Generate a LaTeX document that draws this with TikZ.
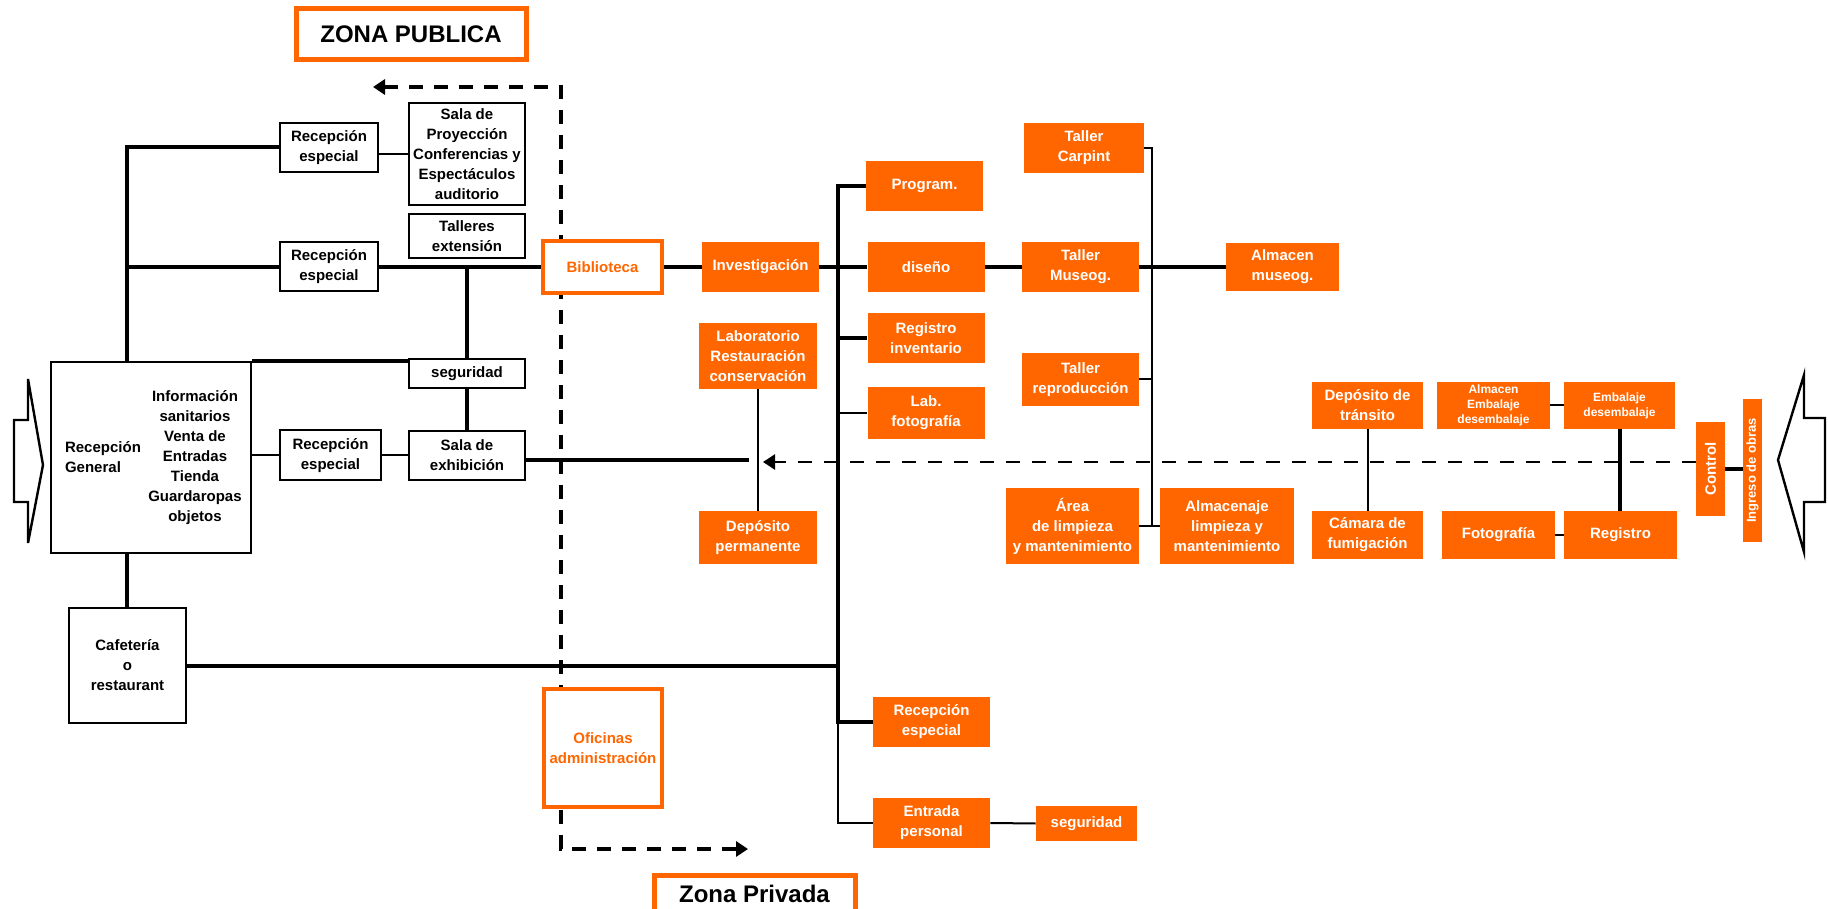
\documentclass[tikz,border=0pt]{standalone}
\usepackage{fontspec}
\setmainfont{Liberation Sans}
\usepackage{tikz}
\usetikzlibrary{arrows.meta,backgrounds}
\definecolor{naranja}{RGB}{255,102,0}
\newcommand{\cajafont}{\fontsize{7.5}{10}\selectfont\bfseries}
\newcommand{\cajafontsm}{\fontsize{6}{7.5}\selectfont\bfseries}

\begin{document}
\begin{tikzpicture}[
  x=0.5pt, y=-0.5pt,
  box/.style={draw, line width=1pt, fill=white, align=center, font=\cajafont, inner sep=0pt},
  obox/.style={box, draw=naranja, line width=2pt, text=naranja},
  ofill/.style={fill=naranja, text=white, align=center, font=\cajafont, inner sep=0pt},
  std/.style={minimum width=58.5pt, minimum height=25pt},
  zone/.style={draw=naranja, line width=2.5pt, fill=white, font=\fontsize{12}{14}\selectfont\bfseries, inner sep=0pt},
  heavy/.style={line width=2pt},
  light/.style={line width=1pt},
  zdash/.style={line width=2pt, dash pattern=on 7pt off 5.5pt},
  mdash/.style={line width=1.3pt, dash pattern=on 7pt off 6pt},
  arr/.style={-{Triangle[length=6pt,width=7.5pt]}}
]
\useasboundingbox (0,0) rectangle (1828,909);

\node[zone, minimum width=115pt, minimum height=25.5pt] (zpub) at (411,34.5) {ZONA PUBLICA};
\node[zone, minimum width=100.5pt, minimum height=18.5pt] (zpriv) at (754.5,893.5) {Zona Privada};

\coordinate (zl) at (373,87);
\coordinate (zt) at (561,87);
\coordinate (zb) at (561,849);
\coordinate (zr) at (748,849);
\begin{scope}[on background layer]
  \draw[zdash, {Triangle[length=6pt,width=7.5pt]}-{Triangle[length=6pt,width=7.5pt]}] (zl) -- (zt) -- (zb) -- (zr);
\end{scope}

% zona publica
\node[box, minimum width=49pt, minimum height=24.5pt] (re1) at (329,147.5) {Recepción\\especial};
\node[box, minimum width=58pt, minimum height=51pt] (proy) at (467,154) {Sala de\\Proyección\\Conferencias y\\Espectáculos\\auditorio};
\node[box, minimum width=58pt, minimum height=22pt] (taller) at (467,236) {Talleres\\extensión};
\node[box, minimum width=49pt, minimum height=24.5pt] (re2) at (329,267) {Recepción\\especial};
\node[box, minimum width=58pt, minimum height=14.5pt] (seg1) at (467,373.5) {seguridad};
\node[box, minimum width=58pt, minimum height=24.5pt] (exhib) at (467,455.5) {Sala de\\exhibición};
\node[box, minimum width=50.5pt, minimum height=25pt] (re3) at (330.5,455.5) {Recepción\\especial};
\node[box, minimum width=100.25pt, minimum height=95.5pt] (recep) at (150.75,457.5) {};
\node[font=\cajafont, align=left, anchor=west] (recepG) at (58,457.5) {Recepción\\General};
\node[font=\cajafont, align=center] (info) at (195,457.5) {Información\\sanitarios\\Venta de\\Entradas\\Tienda\\Guardaropas\\objetos};
\node[box, minimum width=58.5pt, minimum height=57.5pt] (cafe) at (127.5,665.5) {Cafetería\\o\\restaurant};

% zona privada
\node[obox, minimum width=59.5pt, minimum height=26pt] (biblio) at (602.5,267) {Biblioteca};
\node[obox, minimum width=59pt, minimum height=59pt] (ofic) at (603,748) {Oficinas\\administración};
\node[ofill, std] (invest) at (760.5,267) {Investigación};
\node[ofill, std] (progr) at (924.5,186) {Program.};
\node[ofill, std] (diseno) at (926,267) {diseño};
\node[ofill, std] (reginv) at (926,338) {Registro\\inventario};
\node[ofill, std, minimum height=26pt] (labfoto) at (926,413) {Lab.\\fotografía};
\node[ofill, minimum width=59pt, minimum height=33pt] (labrest) at (758,356) {Laboratorio\\Restauración\\conservación};
\node[ofill, minimum width=59pt, minimum height=26.5pt] (depperm) at (758,537.5) {Depósito\\permanente};
\node[ofill, minimum width=60pt, minimum height=25pt] (tcarp) at (1084,148) {Taller\\Carpint};
\node[ofill, std] (tmuseo) at (1080.5,267) {Taller\\Museog.};
\node[ofill, minimum width=56.5pt, minimum height=24pt] (almuseo) at (1282.5,267) {Almacen\\museog.};
\node[ofill, std, minimum height=26.5pt] (trepro) at (1080.5,379.5) {Taller\\reproducción};
\node[ofill, minimum width=66.5pt, minimum height=38pt] (area) at (1072.5,526) {Área\\de limpieza\\y mantenimiento};
\node[ofill, minimum width=67pt, minimum height=38pt] (almlimp) at (1227,526) {Almacenaje\\limpieza y\\mantenimiento};
\node[ofill, minimum width=55.5pt, minimum height=23.5pt] (deptran) at (1367.5,405.5) {Depósito de\\tránsito};
\node[ofill, minimum width=55.5pt, minimum height=24pt] (camara) at (1367.5,535) {Cámara de\\fumigación};
\node[ofill, font=\cajafontsm, minimum width=56.5pt, minimum height=23.5pt] (almemb) at (1493.5,405.5) {Almacen\\Embalaje\\desembalaje};
\node[ofill, font=\cajafontsm, minimum width=55.5pt, minimum height=23.5pt] (embdes) at (1619.5,405.5) {Embalaje\\desembalaje};
\node[ofill, minimum width=56.5pt, minimum height=24pt] (foto) at (1498.5,535) {Fotografía};
\node[ofill, minimum width=56.5pt, minimum height=24pt] (regis) at (1620.5,535) {Registro};
\node[ofill, rotate=90, minimum width=47pt, minimum height=14.5pt] (control) at (1710.5,469) {Control};
\node[ofill, font=\fontsize{6.5}{8}\selectfont\bfseries, rotate=90, minimum width=71.5pt, minimum height=9.5pt] (ingreso) at (1752.5,470.5) {Ingreso de obras};
\node[ofill, std] (reesp) at (931.5,722) {Recepción\\especial};
\node[ofill, std] (entrada) at (931.5,823) {Entrada\\personal};
\node[ofill, minimum width=50.5pt, minimum height=17.5pt] (seg2) at (1086.5,823.5) {seguridad};

% conexiones
\coordinate (lt) at (126.5,147.5);
\draw[heavy] (re1.west) -| (recep.north -| lt);
\draw[heavy] (lt |- re2.west) -- (re2.west);
\draw[light] (re1.east |- proy.west) -- (proy.west);
\draw[heavy] (re2.east) -- (biblio.west);
\draw[heavy] (seg1.north |- re2.east) -- (seg1.north);
\draw[heavy] (seg1.south) -- (exhib.north);
\draw[heavy] (recep.north east) -- (seg1.west |- recep.north east);
\draw[light] (recep.east |- re3.west) -- (re3.west);
\draw[light] (re3.east) -- (exhib.west);
\coordinate (exhend) at (749,460);
\draw[heavy] (exhib.east |- exhend) -- (exhend);
\draw[heavy] (recep.south -| lt) -- (cafe.north -| lt);

\coordinate (vb) at (838,824);
\draw[heavy] (cafe.east) -- (cafe.east -| vb);
\draw[heavy] (progr.west) -| (vb |- reesp.west) -- (reesp.west);
\draw[light] (vb |- reesp.west) |- (entrada.west);
\draw[light] (entrada.east) -- (seg2.west);
\draw[heavy] (vb |- reginv.west) -- (reginv.west);
\draw[light] (vb |- labfoto.west) -- (labfoto.west);
\draw[heavy] (biblio.east) -- (invest.west);
\draw[heavy] (invest.east) -- (diseno.west);
\draw[heavy] (diseno.east) -- (tmuseo.west);
\draw[heavy] (tmuseo.east) -- (almuseo.west);
\draw[light] (labrest.south) -- (depperm.north);

\coordinate (tb) at (1152,526);
\draw[light] (tcarp.east) -| (tb);
\draw[light] (trepro.east) -- (trepro.east -| tb);
\draw[light] (area.east) -- (almlimp.west);
\draw[light] (deptran.south) -- (camara.north);
\draw[light] (almemb.east) -- (embdes.west);
\draw[heavy] (embdes.south) -- (embdes.south |- regis.north);
\draw[light] (foto.east) -- (regis.west);

\coordinate (arrtip) at (763,462);
\draw[mdash, arr] (control.north |- arrtip) -- (arrtip);
\draw[heavy] (control.south) -- (control.south -| ingreso.north);

% flechas de entrada
\draw[line width=1.2pt] (14,420) -- (28,420) -- (28,379) -- (43,465) -- (28,543) -- (28,502) -- (14,502) -- cycle;
\draw[line width=1.2pt] (1825,418) -- (1804,418) -- (1804,375) -- (1778,460) -- (1804,552) -- (1804,502) -- (1825,502) -- cycle;
\end{tikzpicture}
\end{document}
